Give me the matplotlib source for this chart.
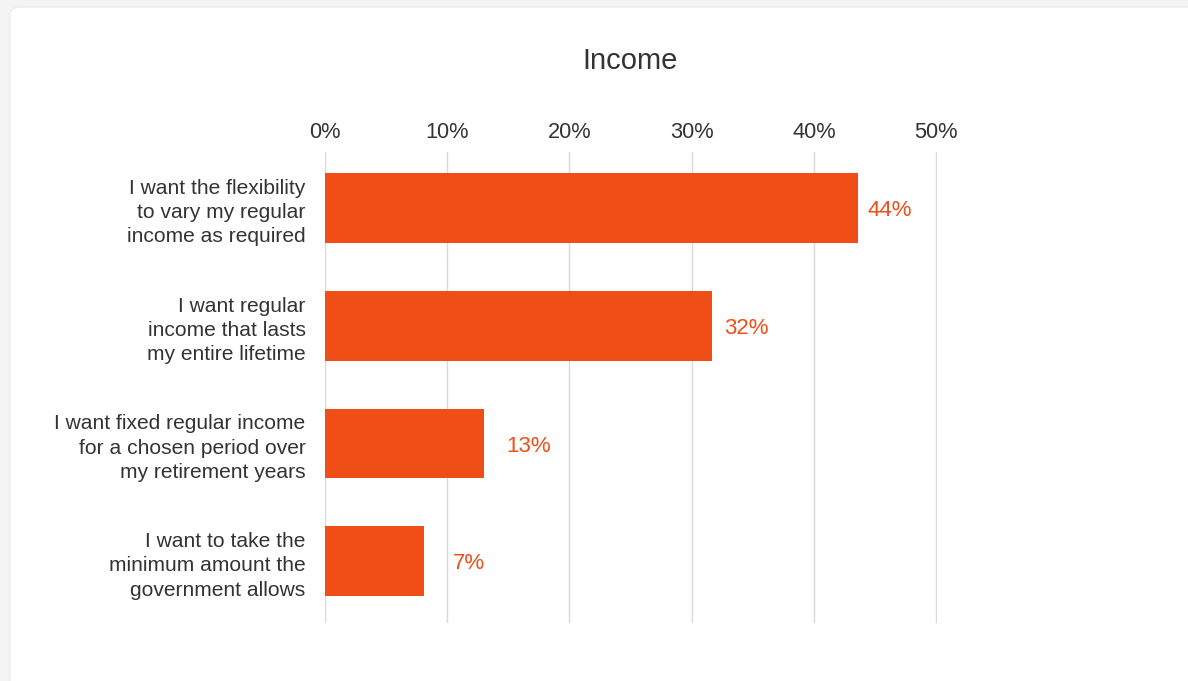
import matplotlib
matplotlib.use("Agg")
import matplotlib.pyplot as plt
from matplotlib.patches import FancyBboxPatch

categories = [
    "I want the flexibility\nto vary my regular\nincome as required",
    "I want regular\nincome that lasts\nmy entire lifetime",
    "I want fixed regular income\nfor a chosen period over\nmy retirement years",
    "I want to take the\nminimum amount the\ngovernment allows",
]
values = [43.6, 31.7, 13.0, 8.1]
value_labels = ["44%", "32%", "13%", "7%"]
xticks = [0, 10, 20, 30, 40, 50]
xtick_labels = ["0%", "10%", "20%", "30%", "40%", "50%"]
title = "Income"

label_pad_px = [10, 12, 22, 29]

plt.rcParams['font.family'] = ['Liberation Sans', 'DejaVu Sans']
W, H = 1188, 681
fig = plt.figure(figsize=(W / 100, H / 100), dpi=100)
fig.patch.set_facecolor("#f4f4f4")

card = FancyBboxPatch((10 / W, -0.05), 1.2, 1 - 7 / H + 0.05,
                      boxstyle="round,pad=0,rounding_size=0.01",
                      transform=fig.transFigure, facecolor="white",
                      edgecolor="#ececec", linewidth=1, zorder=-5)
fig.patches.append(card)

ax = fig.add_axes([325 / W, 1 - 623 / H, (937 - 325) / W, (623 - 152) / H])
ax.set_zorder(2)
ax.set_facecolor("none")
orange = "#EF4E17"
ypos = list(range(len(categories)))
ax.barh(ypos, values, height=0.593, color=orange, zorder=3)
ax.set_ylim(len(categories) - 0.475, -0.475)
ax.set_xlim(0, 50.08)
ax.set_xticks(xticks)
ax.set_xticklabels(xtick_labels)
ax.xaxis.tick_top()
ax.tick_params(axis='x', length=0, pad=6.5, labelsize=15.7, labelcolor="#333333")
ax.set_yticks(ypos)
ax.set_yticklabels(categories)
ax.tick_params(axis='y', length=0, pad=14, labelsize=15.1, labelcolor="#333333")
for lbl in ax.get_yticklabels():
    lbl.set_horizontalalignment('right')
    lbl.set_multialignment('right')
    lbl.set_linespacing(1.35)
ax.grid(axis='x', color="#d9d9d9", linewidth=1, zorder=0)
for s in ax.spines.values():
    s.set_visible(False)

for y, v, t, p in zip(ypos, values, value_labels, label_pad_px):
    ax.annotate(t, xy=(v, y), xytext=(p * 0.72, -2), textcoords="offset points",
                ha="left", va="center", color=orange, fontsize=16)

fig.text((325 + 936) / 2 / W, 1 - 61 / H, title, ha="center", va="center",
         fontsize=21, color="#333333", zorder=3)

fig.savefig("out.png", dpi=100, facecolor=fig.get_facecolor())
